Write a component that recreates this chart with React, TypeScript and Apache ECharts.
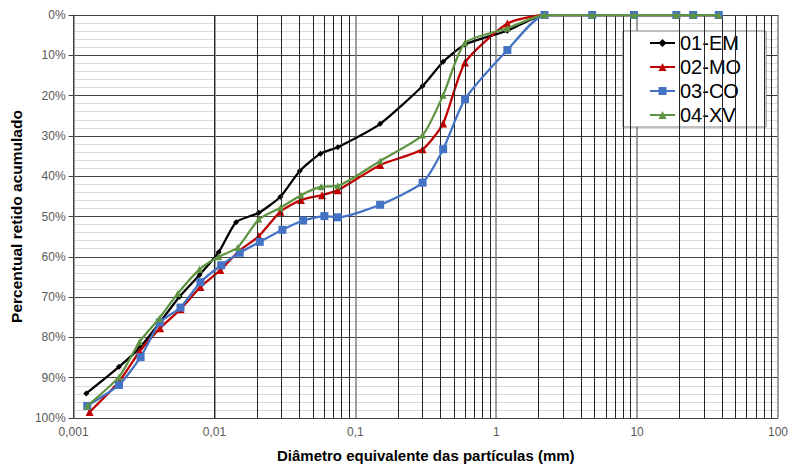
import React, { useEffect, useRef } from "react";
import * as echarts from "echarts";

// Particle diameter (mm) and cumulative retained percentage, per sample
const emX = [0.00123, 0.0021, 0.00294, 0.00407, 0.00564, 0.00783, 0.0107, 0.01425, 0.0206, 0.0294, 0.0403, 0.0565, 0.075, 0.15, 0.3, 0.42, 0.6, 1.2, 2.2, 4.8, 9.5, 19, 25, 38];
const emY = [93.9, 87.3, 82.6, 76.4, 69.9, 64.5, 58.9, 51.4, 49.1, 45.1, 38.7, 34.4, 32.8, 27.0, 17.6, 11.6, 7.3, 3.9, 0, 0, 0, 0, 0, 0];

const moX = [0.0013, 0.0021, 0.00294, 0.00411, 0.00574, 0.00795, 0.011, 0.01492, 0.0206, 0.0294, 0.0411, 0.058, 0.075, 0.15, 0.3, 0.42, 0.6, 1.2, 2.2, 4.8, 9.5, 19, 25, 38];
const moY = [98.5, 91.0, 83.5, 77.7, 73.0, 67.5, 63.3, 58.6, 54.9, 48.8, 45.9, 44.7, 43.5, 37.2, 33.3, 26.9, 11.8, 2.1, 0, 0, 0, 0, 0, 0];

const coX = [0.00125, 0.0021, 0.00299, 0.00409, 0.00574, 0.00795, 0.01116, 0.01512, 0.02096, 0.03036, 0.04256, 0.06026, 0.075, 0.15, 0.3, 0.42, 0.6, 1.2, 2.2, 4.8, 9.5, 19, 25, 38];
const coY = [97.0, 91.8, 84.9, 76.3, 72.6, 66.3, 62.1, 59.0, 56.3, 53.3, 51.0, 49.9, 50.2, 47.1, 41.6, 33.3, 20.9, 8.7, 0, 0, 0, 0, 0, 0];

const xvX = [0.00125, 0.0021, 0.00294, 0.00405, 0.00549, 0.00783, 0.0107, 0.01463, 0.0206, 0.0294, 0.0412, 0.0571, 0.075, 0.15, 0.3, 0.42, 0.6, 1.2, 2.2, 4.8, 9.5, 19, 25, 38];
const xvY = [97.0, 89.8, 81.1, 75.3, 69.1, 63.1, 60.0, 57.7, 50.7, 47.8, 44.7, 42.6, 42.4, 36.2, 29.8, 19.9, 6.9, 3.3, 0, 0, 0, 0, 0, 0];

const seriesNames = ["01-EM", "02-MO", "03-CO", "04-XV"];
const xTickLabels = ["0,001", "0,01", "0,1", "1", "10", "100"];
const decades = [0.001, 0.01, 0.1, 1, 10];
const minorMultipliers = [2, 3, 4, 5, 6, 7, 8, 9];

const FONT = "'Liberation Sans', Arial, sans-serif";

function pairs(xs: number[], ys: number[]) {
  return xs.map((x, i) => [x, ys[i]]);
}

export default function App() {
  const ref = useRef<HTMLDivElement>(null);

  useEffect(() => {
    if (!ref.current) return;
    const chart = echarts.init(ref.current, undefined, { renderer: "svg" });

    const minorLines: any[] = [];
    decades.forEach((d) => minorMultipliers.forEach((m) => minorLines.push({ xAxis: d * m })));

    const mk = (name: string, color: string, symbol: string, size: number, data: number[][], z: number) => ({
      name,
      type: "line",
      data,
      symbol,
      symbolSize: size,
      showSymbol: true,
      smooth: 0.2,
      z,
      lineStyle: { color, width: 2.25 },
      itemStyle: { color },
    });

    chart.setOption({
      animation: false,
      backgroundColor: "#ffffff",
      grid: { left: 73, right: 13, top: 15, bottom: 53, containLabel: false },
      legend: {
        data: seriesNames,
        orient: "vertical",
        left: 623,
        top: 31,
        backgroundColor: "#ffffff",
        borderColor: "#7f7f7f",
        borderWidth: 1,
        padding: [2, 25, 2, 26],
        itemGap: 4,
        itemWidth: 25,
        itemHeight: 10,
        textStyle: { fontFamily: FONT, fontSize: 20, color: "#000000" },
      },
      xAxis: {
        type: "log",
        logBase: 10,
        min: 0.001,
        max: 100,
        name: "Diâmetro equivalente das partículas (mm)",
        nameLocation: "middle",
        nameGap: 30,
        nameTextStyle: { fontFamily: FONT, fontSize: 15, fontWeight: "bold", color: "#000000" },
        axisLine: { show: true, lineStyle: { color: "#404040", width: 1 } },
        axisTick: { show: false },
        axisLabel: {
          fontFamily: FONT,
          fontSize: 12,
          color: "#595959",
          margin: 8,
          formatter: (v: number) => {
            const i = Math.round(Math.log10(v)) + 3;
            return xTickLabels[i] ?? String(v);
          },
        },
        splitLine: { show: true, lineStyle: { color: "#7f7f7f", width: 1.5 } },
      },
      yAxis: {
        type: "value",
        inverse: true,
        min: 0,
        max: 100,
        interval: 10,
        name: "Percentual retido acumulado",
        nameLocation: "middle",
        nameGap: 49,
        nameTextStyle: { fontFamily: FONT, fontSize: 15.5, fontWeight: "bold", color: "#000000" },
        axisLine: { show: true, lineStyle: { color: "#404040", width: 1 } },
        axisTick: { show: true, inside: false, length: 5, lineStyle: { color: "#404040" } },
        axisLabel: { fontFamily: FONT, fontSize: 12, color: "#595959", margin: 8, formatter: "{value}%" },
        splitLine: { show: true, lineStyle: { color: "#404040", width: 1 } },
        minorTick: { show: false, splitNumber: 5 },
        minorSplitLine: { show: true, lineStyle: { color: "#d9d9d9", width: 1 } },
      },
      series: [
        {
          name: "grid",
          type: "line",
          data: [],
          z: 1,
          silent: true,
          markLine: {
            silent: true,
            symbol: ["none", "none"],
            label: { show: false },
            lineStyle: { color: "#262626", width: 1, type: "solid" },
            emphasis: { disabled: true },
            data: minorLines,
          },
        },
        mk(seriesNames[0], "#000000", "diamond", 6, pairs(emX, emY), 3),
        mk(seriesNames[1], "#c00000", "triangle", 8, pairs(moX, moY), 4),
        mk(seriesNames[2], "#4472c4", "rect", 8, pairs(coX, coY), 5),
        mk(seriesNames[3], "#5e9441", "triangle", 7, pairs(xvX, xvY), 6),
      ],
    });

    return () => chart.dispose();
  }, []);

  return <div ref={ref} style={{ position: "fixed", left: 0, top: 0, width: 791, height: 471 }} />;
}
